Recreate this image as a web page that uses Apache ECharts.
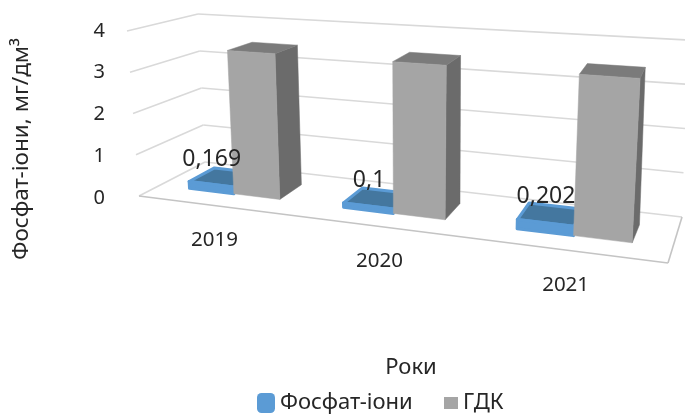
<!DOCTYPE html>
<html>
<head>
<meta charset="utf-8">
<style>html,body{margin:0;padding:0;background:#fff}#chart{width:685px;height:416px}</style>
<script src="https://cdn.jsdelivr.net/npm/echarts@6/dist/echarts.min.js"></script>
</head>
<body>
<div id="chart"></div>
<script>
// Phosphate ions against the permitted limit, by year
const categories = ['2019', '2020', '2021'];
const phosphate = [0.169, 0.1, 0.202];
const limit = [3.5, 3.5, 3.5];
const valueTicks = [0, 1, 2, 3, 4];
const phosphateName = 'Фосфат-іони';
const limitName = 'ГДК';

const FONT = '"Noto Sans", sans-serif';
const TEXT = '#262626';

// Box corners of the tilted plot: front/back, left/right, floor/ceiling
const box = {
  flb: [139, 196], frb: [668, 263], blb: [205, 162], brb: [682, 217],
  flt: [127, 31],  frt: [681, 66],  blt: [198, 14],  brt: [688, 40]
};
const foreshorten = 1.2;      // narrowing along the width of the box
const barFront = 0.33, barBack = 0.73;  // depth occupied by the bars
const barShare = 0.3;         // bar width as a share of one category

function mix(a, b, f) { return [a[0] + (b[0] - a[0]) * f, a[1] + (b[1] - a[1]) * f]; }

// t: 0..1 across, d: 0..1 into the page, h: 0..1 up
function project(t, d, h) {
  const u = t / (t + foreshorten * (1 - t));
  const floor = mix(mix(box.flb, box.frb, u), mix(box.blb, box.brb, u), d);
  const ceil = mix(mix(box.flt, box.frt, u), mix(box.blt, box.brt, u), d);
  return mix(floor, ceil, h);
}

// Turns a data point into plot fractions using the grid's own scales
function scaler(params, api) {
  const r = params.coordSys;
  return function (cat, share, val) {
    const p = api.coord([cat, val]);
    return {
      t: (p[0] + share * api.size([1, 0])[0] - r.x) / r.width,
      h: (r.y + r.height - p[1]) / r.height
    };
  };
}

function poly(points, fill, stroke, width) {
  return {
    type: 'polygon', shape: { points: points },
    style: { fill: fill, stroke: stroke, lineWidth: width, lineJoin: 'round' }
  };
}
function line(a, b, color, width) {
  return { type: 'line', shape: { x1: a[0], y1: a[1], x2: b[0], y2: b[1] }, style: { stroke: color, lineWidth: width } };
}

function barRenderer(from, to, look) {
  return function (params, api) {
    const s = scaler(params, api);
    const cat = api.value(0), val = api.value(1);
    const a = s(cat, from, val), b = s(cat, to, val);
    const h = a.h;
    const f0 = project(a.t, barFront, 0), f1 = project(b.t, barFront, 0);
    const b1 = project(b.t, barBack, 0);
    const t0 = project(a.t, barFront, h), t1 = project(b.t, barFront, h);
    const t2 = project(b.t, barBack, h), t3 = project(a.t, barBack, h);
    return {
      type: 'group',
      children: [
        poly([f1, b1, t2, t1], look.side, look.side, 0.5),
        poly([t0, t1, t2, t3], look.top, look.rim, look.rimWidth),
        poly([f0, f1, t1, t0], look.front, look.front, look.rimWidth)
      ]
    };
  };
}

function wallRenderer(params, api) {
  const s = scaler(params, api);
  const h = s(0, 0, api.value(0)).h;
  const color = '#d9d9d9';
  const kids = [
    line(project(0, 0, h), project(0, 1, h), color, 1.6),
    line(project(0, 1, h), project(1, 1, h), color, 1.6)
  ];
  if (api.value(0) === valueTicks[0]) {
    kids.push(line(project(0, 0, 0), project(1, 0, 0), '#c4c4c4', 1.6));
    kids.push(line(project(1, 0, 0), project(1, 1, 0), '#c4c4c4', 1.6));
  }
  return { type: 'group', children: kids };
}

function valueLabelRenderer(params, api) {
  const s = scaler(params, api);
  const cat = api.value(0), val = api.value(1);
  const a = s(cat, -barShare, val);
  const mid = s(cat, -barShare / 2, val);
  const corner = project(a.t, barFront, 0);
  const p = project(mid.t, (barFront + barBack) / 2, mid.h);
  return {
    type: 'text',
    style: {
      text: String(val).replace('.', ','),
      x: corner[0] + 21 + 10 * mid.t, y: p[1] - 18,
      align: 'center', verticalAlign: 'middle',
      fontFamily: FONT, fontSize: 23, fill: TEXT
    }
  };
}

function categoryLabelRenderer(params, api) {
  const s = scaler(params, api);
  const cat = api.value(0);
  const a = s(cat, 0, 0);
  const p = project(a.t, 0, 0);
  return {
    type: 'text',
    style: {
      text: categories[cat],
      x: p[0], y: p[1] + 35,
      align: 'center', verticalAlign: 'middle',
      fontFamily: FONT, fontSize: 20.5, fill: TEXT
    }
  };
}

const points = function (values) { return values.map(function (v, i) { return [i, v]; }); };

const chart = echarts.init(document.getElementById('chart'), null, { renderer: 'canvas' });
chart.setOption({
  animation: false,
  backgroundColor: '#ffffff',
  grid: { left: 112, right: 0, top: 31, height: 167 },
  xAxis: {
    type: 'category',
    data: categories,
    show: false
  },
  yAxis: {
    type: 'value',
    min: valueTicks[0],
    max: valueTicks[valueTicks.length - 1],
    interval: 1,
    axisLine: { show: false },
    axisTick: { show: false },
    splitLine: { show: false },
    axisLabel: { margin: 7, fontFamily: FONT, fontSize: 20, color: TEXT }
  },
  legend: [
    {
      data: [phosphateName], left: 257, top: 392, padding: 0,
      icon: 'roundRect', itemWidth: 18, itemHeight: 20, itemGap: 0,
      textStyle: { fontFamily: FONT, fontSize: 22, color: TEXT }
    },
    {
      data: [limitName], left: 444, top: 392, padding: 0,
      icon: 'rect', itemWidth: 14, itemHeight: 12,
      textStyle: { fontFamily: FONT, fontSize: 22, color: TEXT }
    }
  ],
  graphic: [
    {
      type: 'text', x: 22, y: 149, rotation: Math.PI / 2,
      style: { text: 'Фосфат-іони, мг/дм³', align: 'center', verticalAlign: 'middle',
               fontFamily: FONT, fontSize: 22.5, fill: TEXT }
    },
    {
      type: 'text', x: 411, y: 368,
      style: { text: 'Роки', align: 'center', verticalAlign: 'middle',
               fontFamily: FONT, fontSize: 22, fill: TEXT }
    }
  ],
  series: [
    {
      type: 'custom', name: 'walls', silent: true, renderItem: wallRenderer,
      data: valueTicks.map(function (v) { return [v]; }), encode: { y: 0 }
    },
    {
      type: 'custom', name: phosphateName,
      renderItem: barRenderer(-barShare, 0, { front: '#5b9bd5', top: '#44779f', side: '#3f6f98', rim: '#5b9bd5', rimWidth: 3 }),
      itemStyle: { color: '#5b9bd5' },
      data: points(phosphate), encode: { x: 0, y: 1 }
    },
    {
      type: 'custom', name: limitName,
      renderItem: barRenderer(0, barShare, { front: '#a5a5a5', top: '#7b7b7b', side: '#6b6b6b', rim: '#7b7b7b', rimWidth: 0.5 }),
      itemStyle: { color: '#a5a5a5' },
      data: points(limit), encode: { x: 0, y: 1 }
    },
    {
      type: 'custom', name: 'values', silent: true, renderItem: valueLabelRenderer,
      data: points(phosphate), encode: { x: 0, y: 1 }
    },
    {
      type: 'custom', name: 'years', silent: true, renderItem: categoryLabelRenderer,
      data: points(phosphate), encode: { x: 0, y: 1 }
    }
  ]
});
</script>
</body>
</html>
